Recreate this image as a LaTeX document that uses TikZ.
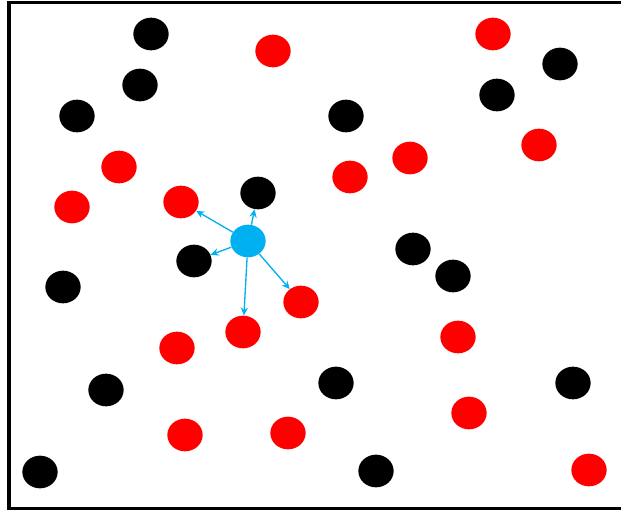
\documentclass[tikz,border=0pt]{standalone}
\usepackage{xcolor}
\usepackage{tikz}
\usetikzlibrary{shapes.geometric,arrows.meta}

\definecolor{qblue}{HTML}{00B0F0}

\begin{document}
\begin{tikzpicture}[
  x=0.75pt, y=-0.75pt,
  dot/.style={ellipse, inner sep=0pt, minimum width=26.5pt, minimum height=24.5pt},
  blk/.style={dot, fill=black},
  rd/.style={dot, fill=red},
  qry/.style={dot, fill=qblue},
  arr/.style={-{Stealth[length=6pt,width=5.5pt]}, draw=qblue, line width=1pt}
]
\useasboundingbox (0,0) rectangle (621,511);
\draw[line width=2.3pt] (9,2.5) rectangle (624,508.5);

% black points
\foreach \n/\x/\y in {1/151/34, 2/140/85, 3/77/116, 4/346/116, 5/497/95, 6/560/64,
  7/258/193, 8/194/261, 9/413/249, 10/453/276, 11/63/287, 12/106/390,
  13/336/383, 14/573/383, 15/40/472, 16/376/471}
  \node[blk] (b\n) at (\x,\y) {};

% red points
\foreach \n/\x/\y in {1/273/51, 2/493/34, 3/119/167, 4/72/207, 5/181/202, 6/350/177,
  7/410/158, 8/539/145, 9/301/302, 10/243/332, 11/177/348, 12/458/337,
  13/469/413, 14/185/435, 15/288/433, 16/589/470}
  \node[rd] (r\n) at (\x,\y) {};

% query point and its neighbours
\node[qry] (q) at (248,241) {};

\draw[arr] (q) -- (r5);
\draw[arr] (q) -- (b7);
\draw[arr] (q) -- (b8);
\draw[arr] (q) -- (r9);
\draw[arr] (q) -- (r10);
\end{tikzpicture}
\end{document}
